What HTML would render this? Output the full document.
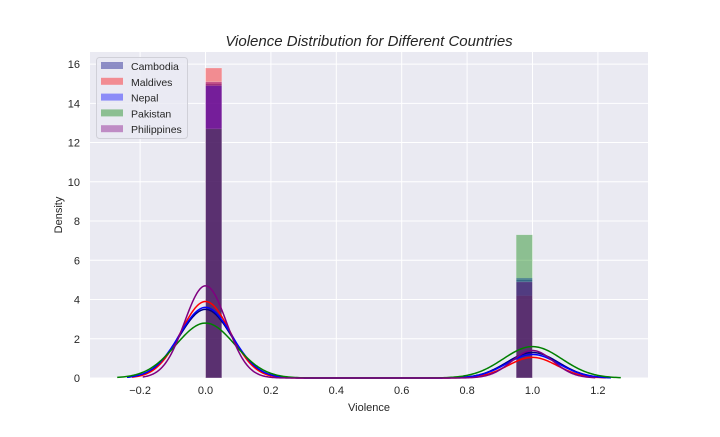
<!DOCTYPE html>
<html><head><meta charset="utf-8"><style>
body{margin:0;background:#fff}
svg{font-family:"Liberation Sans",sans-serif}
</style></head><body>
<svg id="chart" width="720" height="432"></svg>
<script>
const countries=["Cambodia","Maldives","Nepal","Pakistan","Philippines"];
const colors=["navy","red","blue","green","purple"];
const barAt0=[15.0,15.8,14.9,12.7,15.1];
const barAt1=[5.0,4.2,5.1,7.3,4.9];
const kdePeak0=[3.5,3.9,3.6,2.8,4.7];
const kdePeak1=[1.3,1.05,1.2,1.6,1.4];
const kdeBw=[0.08,0.075,0.08,0.09,0.064];
const xTicks=[-0.2,0,0.2,0.4,0.6,0.8,1.0,1.2];
const yTicks=[0,2,4,6,8,10,12,14,16];
const binWidth=0.05;

const L=90,R=648,T=52,B=378;
const X=v=>205.5+v*327;
const Y=v=>B-v*19.62;
const NS="http://www.w3.org/2000/svg";
const svg=document.getElementById('chart');
function mk(tag,attrs,parent){const e=document.createElementNS(NS,tag);for(const k in attrs)e.setAttribute(k,attrs[k]);(parent||svg).appendChild(e);return e;}

const bg=mk('rect',{x:L,y:T,width:R-L,height:B-T,fill:'#eaeaf2'});


xTicks.forEach(t=>{
  const g=mk('line',{x1:X(t),x2:X(t),y1:T,y2:B,stroke:'#fff','stroke-width':1});
  
  
  const tx=mk('text',{x:X(t),y:B+16,'text-anchor':'middle','font-size':11,fill:'#262626'});
  tx.textContent=(t<0?'\u2212':'')+Math.abs(t).toFixed(1);
  
  
});
yTicks.forEach(t=>{
  const g=mk('line',{x1:L,x2:R,y1:Y(t),y2:Y(t),stroke:'#fff','stroke-width':1});
  
  
  const tx=mk('text',{x:L-10,y:Y(t)+4,'text-anchor':'end','font-size':11,fill:'#262626'});
  tx.textContent=t;
  
  
});
countries.forEach((c,i)=>{
  [[0,barAt0[i]],[1-binWidth,barAt1[i]]].forEach(([x0,h])=>{
    const r=mk('rect',{x:X(x0),y:Y(h),width:X(x0+binWidth)-X(x0),height:Y(0)-Y(h),fill:colors[i],'fill-opacity':0.4,stroke:'#fff','stroke-opacity':0.4,'stroke-width':0.5});
    
    
  });
});
countries.forEach((c,i)=>{
  const bw=kdeBw[i];let d='';
  const a=-3*bw,b=1+3*bw;
  for(let k=0;k<=300;k++){
    const x=a+(b-a)*k/300;
    const y=kdePeak0[i]*Math.exp(-x*x/(2*bw*bw))+kdePeak1[i]*Math.exp(-(x-1)*(x-1)/(2*bw*bw));
    d+=(k?'L':'M')+X(x).toFixed(2)+','+Y(y).toFixed(2);
  }
  const p=mk('path',{d:d,fill:'none',stroke:colors[i],'stroke-width':1.5});
  
  
});
const title=mk('text',{x:(L+R)/2,y:46,'text-anchor':'middle','font-size':15,'font-style':'italic',fill:'#262626'});
title.textContent='Violence Distribution for Different Countries';


const xl=mk('text',{x:(L+R)/2,y:411,'text-anchor':'middle','font-size':11,fill:'#262626'});
xl.textContent='Violence';


const yl=mk('text',{x:62,y:(T+B)/2,'text-anchor':'middle','font-size':11,fill:'#262626',transform:'rotate(-90 62 '+((T+B)/2)+')'});
yl.textContent='Density';


const lg=mk('g',{});


mk('rect',{x:96.5,y:57.5,width:91,height:81,rx:3,fill:'#eaeaf2','fill-opacity':0.8,stroke:'#d0d0d8'},lg);
countries.forEach((c,i)=>{
  const yy=66+i*15.8;
  const sw=mk('rect',{x:101,y:yy-4,width:22,height:7,fill:colors[i],'fill-opacity':0.4},lg);
  
  
  const t=mk('text',{x:131,y:yy+4,'font-size':10.5,fill:'#262626'},lg);
  t.textContent=c;
  
  
});
</script>
</body></html>
